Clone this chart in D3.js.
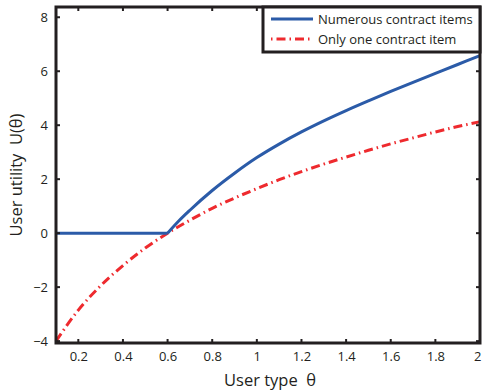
<!DOCTYPE html>
<html><head><meta charset="utf-8">
<script src="https://cdn.jsdelivr.net/npm/d3@7"></script>
<style>body{margin:0;background:#fff}svg{display:block}text{font-family:"Open Sans","Noto Sans",sans-serif;fill:#231f20;white-space:pre}</style>
</head><body><svg id="c" width="482" height="390"></svg>
<script>
const thetaBlue = [0.1,0.2,0.3,0.4,0.5,0.6,0.65,0.7,0.8,0.9,1.0,1.1,1.2,1.3,1.4,1.5,1.6,1.7,1.8,1.9,2.0];
const uBlue     = [0,0,0,0,0,0,0.45,0.85,1.58,2.22,2.8,3.3,3.75,4.16,4.54,4.9,5.25,5.59,5.92,6.25,6.58];
const thetaRed  = [0.1,0.2,0.3,0.4,0.5,0.6,0.7,0.8,0.9,1.0,1.1,1.2,1.3,1.4,1.5,1.6,1.7,1.8,1.9,2.0];
const uRed      = [-4.0,-2.85,-1.95,-1.2,-0.55,0,0.48,0.92,1.3,1.65,1.98,2.28,2.56,2.82,3.07,3.31,3.53,3.75,3.95,4.13];
const xTicks = [0.2,0.4,0.6,0.8,1,1.2,1.4,1.6,1.8,2];
const yTicks = [-4,-2,0,2,4,6,8];
const seriesNames = ["Numerous contract items","Only one contract item"];

const svg = d3.select("#c");
const L=56, R=480, T=7, B=343;
const x = d3.scaleLinear().domain([0.1,2]).range([L,R]);
const y = d3.scaleLinear().domain([-4.07,8.38]).range([B,T]);
const fmt = d => d<0 ? "\u2212"+Math.abs(d) : String(d);

const blueLine = d3.line().x(d=>x(d[0])).y(d=>y(d[1])).curve(d3.curveMonotoneX);
const redLine = d3.line().x(d=>x(d[0])).y(d=>y(d[1])).curve(d3.curveMonotoneX);
const g = svg.append("g");
g.append("path").datum(thetaRed.map((t,i)=>[t,uRed[i]]))
  .attr("d",redLine).attr("fill","none").attr("stroke","#ee2a2e").attr("stroke-width",3)
  .attr("stroke-dasharray","9,4,1.5,4");
const bluePts = thetaBlue.map((t,i)=>[t,uBlue[i]]);
g.append("path").datum(bluePts.slice(0,6))
  .attr("d",d3.line().x(d=>x(d[0])).y(d=>y(d[1]))).attr("fill","none").attr("stroke","#2b5ba8").attr("stroke-width",3);
g.append("path").datum(bluePts.slice(5))
  .attr("d",blueLine).attr("fill","none").attr("stroke","#2b5ba8").attr("stroke-width",3).attr("stroke-linejoin","round");

// axes
const bottom = d3.axisBottom(x).tickValues(xTicks).tickSize(0).tickPadding(9).tickFormat(fmt);
const left = d3.axisLeft(y).tickValues(yTicks).tickSize(0).tickPadding(8).tickFormat(fmt);
const gb = svg.append("g").attr("transform",`translate(0,${B})`).call(bottom);
const gl = svg.append("g").attr("transform",`translate(${L},0)`).call(left);
[gb,gl].forEach(a=>{a.select(".domain").remove();a.selectAll("text").style("font-size","13px").attr("fill","#231f20");});
gb.selectAll(".tick").filter(d=>d===2).select("text").attr("text-anchor","end").attr("dx","1");
xTicks.forEach(t=>{
  svg.append("line").attr("x1",x(t)).attr("x2",x(t)).attr("y1",B).attr("y2",B-4).attr("stroke","#231f20").attr("stroke-width",2);
  svg.append("line").attr("x1",x(t)).attr("x2",x(t)).attr("y1",T).attr("y2",T+4).attr("stroke","#231f20").attr("stroke-width",2);
});
yTicks.forEach(t=>{
  svg.append("line").attr("x1",L).attr("x2",L+4).attr("y1",y(t)).attr("y2",y(t)).attr("stroke","#231f20").attr("stroke-width",2);
  svg.append("line").attr("x1",R).attr("x2",R-4).attr("y1",y(t)).attr("y2",y(t)).attr("stroke","#231f20").attr("stroke-width",2);
});
svg.append("rect").attr("x",L).attr("y",T).attr("width",R-L).attr("height",B-T)
  .attr("fill","none").attr("stroke","#231f20").attr("stroke-width",3);

svg.append("text").attr("x",270).attr("y",386).attr("text-anchor","middle").style("font-size","16.5px")
  .text("User type  \u03b8");
svg.append("text").attr("transform","translate(22,175) rotate(-90)").attr("text-anchor","middle").style("font-size","16.5px")
  .text("User utility  U(\u03b8)");

const lg = svg.append("g");
lg.append("rect").attr("x",263).attr("y",T).attr("width",R-263).attr("height",45)
  .attr("fill","#fff").attr("stroke","#231f20").attr("stroke-width",3);
lg.append("line").attr("x1",271).attr("x2",313).attr("y1",19).attr("y2",19).attr("stroke","#2b5ba8").attr("stroke-width",3);
lg.append("line").attr("x1",271).attr("x2",313).attr("y1",39).attr("y2",39).attr("stroke","#ee2a2e").attr("stroke-width",3)
  .attr("stroke-dasharray","1.5,4,9,4");
lg.append("text").attr("x",318).attr("y",24).style("font-size","13px").text(seriesNames[0]);
lg.append("text").attr("x",318).attr("y",44).style("font-size","13px").text(seriesNames[1]);
</script></body></html>
